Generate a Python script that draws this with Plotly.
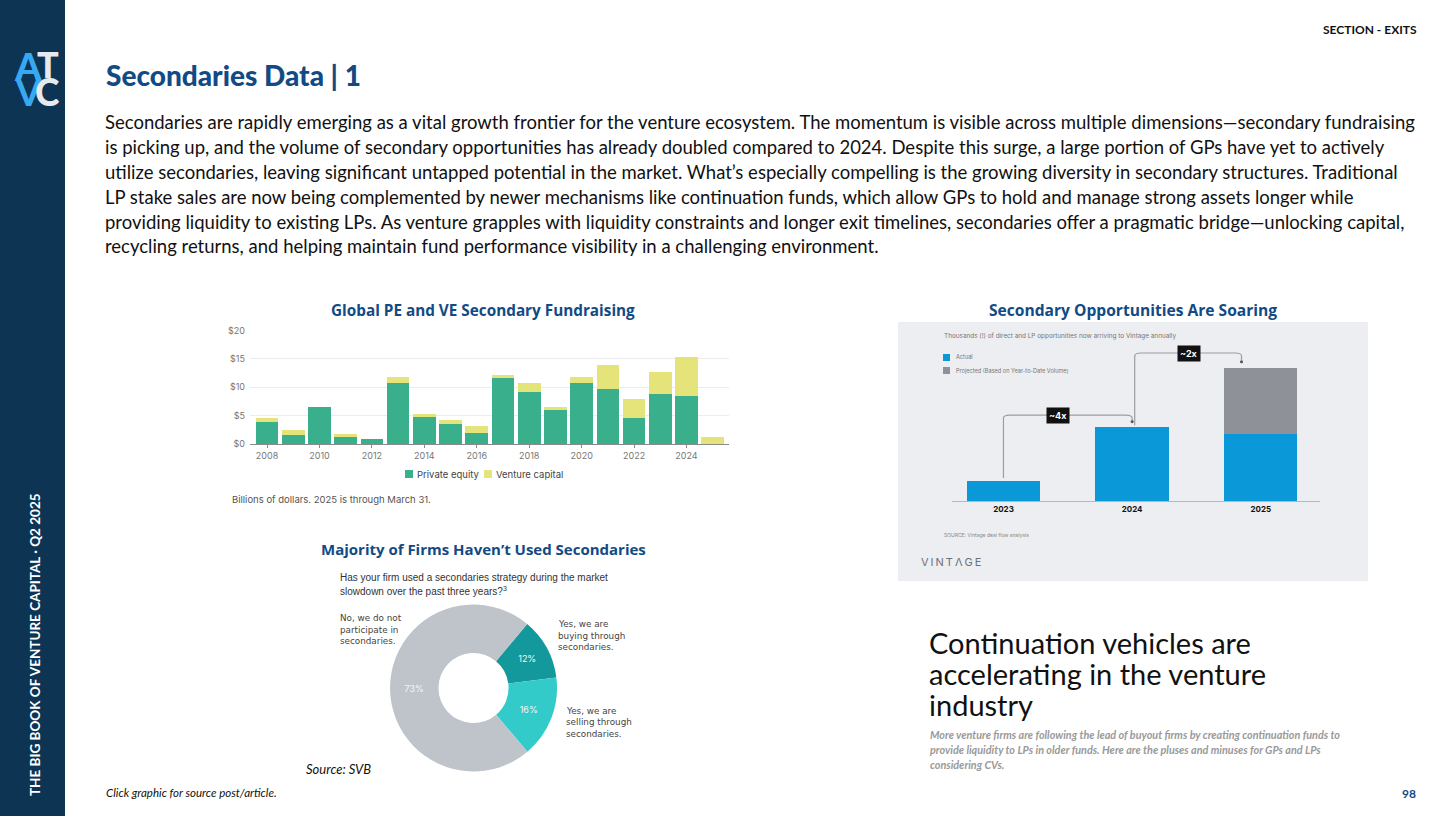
import plotly.graph_objects as go

W, H = 1456, 816

# ---------------- data ----------------
years = list(range(2008, 2026))
pe_values = [3.8, 1.5, 6.5, 1.2, 0.8, 10.7, 5.0, 3.5, 1.9, 11.8, 9.1, 6.0, 10.8, 9.7, 4.5, 8.8, 8.4, 0.0]
vc_values = [0.7, 1.0, 0.0, 0.6, 0.0, 1.1, 0.3, 0.7, 1.2, 0.3, 1.7, 0.6, 1.0, 4.2, 3.4, 3.9, 6.9, 1.3]
bar_ticks = [2008, 2010, 2012, 2014, 2016, 2018, 2020, 2022, 2024]
bar_yticks = [0, 5, 10, 15, 20]
bar_yticktext = ["$0", "$5", "$10", "$15", "$20"]

opp_years = ["2023", "2024", "2025"]
opp_actual = [0.55, 2.0, 1.8]
opp_projected = [0.0, 0.0, 1.8]

donut_labels = ["Yes, we are buying through secondaries.",
                "Yes, we are selling through secondaries.",
                "No, we do not participate in secondaries."]
donut_values = [12, 16, 73]
donut_text = ["12%", "16%", "73%"]

body_lines = [
    "Secondaries are rapidly emerging as a vital growth frontier for the venture ecosystem. The momentum is visible across multiple dimensions\u2014secondary fundraising",
    "is picking up, and the volume of secondary opportunities has already doubled compared to 2024. Despite this surge, a large portion of GPs have yet to actively",
    "utilize secondaries, leaving significant untapped potential in the market. What\u2019s especially compelling is the growing diversity in secondary structures. Traditional",
    "LP stake sales are now being complemented by newer mechanisms like continuation funds, which allow GPs to hold and manage strong assets longer while",
    "providing liquidity to existing LPs. As venture grapples with liquidity constraints and longer exit timelines, secondaries offer a pragmatic bridge\u2014unlocking capital,",
    "recycling returns, and helping maintain fund performance visibility in a challenging environment.",
]

# ---------------- helpers ----------------
def px(x):
    return x / W

def py(y):
    return 1 - y / H

NAVY = "#0d3453"
TITLE_BLUE = "#124a85"
GREEN = "#3aaf8b"
YELLOW = "#e5e47a"
V_BLUE = "#0b98d9"
V_GRAY = "#8e9298"

annotations = []
shapes = []

def ann(x, y, text, size, color="#000000", family="Lato", xanchor="left",
        yanchor="middle", weight=None, style=None, angle=0, **kw):
    font = dict(size=size, color=color, family=family)
    if weight:
        font["weight"] = weight
    if style:
        font["style"] = style
    annotations.append(dict(x=px(x), y=py(y), xref="paper", yref="paper", text=text,
                            showarrow=False, xanchor=xanchor, yanchor=yanchor,
                            font=font, textangle=angle, **kw))

def rect(x0, y0, x1, y1, color, layer="below"):
    shapes.append(dict(type="rect", xref="paper", yref="paper",
                       x0=px(x0), x1=px(x1), y0=py(y1), y1=py(y0),
                       fillcolor=color, line=dict(width=0), layer=layer))

fig = go.Figure()

# ---------------- sidebar ----------------
rect(0, 0, 65, 816, NAVY)
ann(29, 66, "A", 38, "#36a9f2", "Lato", "center", weight=900)
ann(48, 64, "T", 36, "#e6eaee", "Lato", "center", weight=900)
ann(28, 92, "V", 36, "#36a9f2", "Lato", "center", weight=900)
ann(47, 91, "C", 37, "#e6eaee", "Lato", "center", weight=900)
ann(35, 645, "THE BIG BOOK OF VENTURE CAPITAL \u00b7 Q2 2025", 13.5, "#ffffff",
    "Lato", "center", weight="bold", angle=-90)

# ---------------- header ----------------
ann(1419, 30, "SECTION - EXITS", 12, "#111111", "Lato", "right", weight="bold")
ann(104, 75, "Secondaries Data | 1", 28, TITLE_BLUE, "Lato", "left", weight=900)
for i, line in enumerate(body_lines):
    ann(103, 122 + i * 24.9, line, 18.5, "#111111", "Lato", "left")

# ---------------- chart titles ----------------
ann(483, 310, "Global PE and VE Secondary Fundraising", 15.3, TITLE_BLUE, "Open Sans", "center", weight="bold")
ann(1133, 310, "Secondary Opportunities Are Soaring", 15.6, TITLE_BLUE, "Open Sans", "center", weight="bold")
ann(483, 549, "Majority of Firms Haven\u2019t Used Secondaries", 15, TITLE_BLUE, "Open Sans", "center", weight="bold")

# ---------------- bar chart ----------------
fig.add_trace(go.Bar(x=years, y=pe_values, marker=dict(color=GREEN, line=dict(width=0)),
                     name="Private equity", xaxis="x", yaxis="y", showlegend=False))
fig.add_trace(go.Bar(x=years, y=vc_values, marker=dict(color=YELLOW, line=dict(width=0)),
                     name="Venture capital", xaxis="x", yaxis="y", showlegend=False))

# legend (manual)
rect(405, 470, 413, 478, GREEN, layer="above")
ann(415, 474, "Private equity", 9.5, "#444444", "Inter", "left")
rect(484, 470, 492, 478, YELLOW, layer="above")
ann(494, 474, "Venture capital", 9.5, "#444444", "Inter", "left")
ann(230, 499, "Billions of dollars. 2025 is through March 31.", 9.5, "#555555", "Inter", "left")

# ---------------- Vintage chart ----------------
rect(898, 322, 1368, 581, "#eceef1")
fig.add_trace(go.Bar(x=[0, 1, 2], y=opp_actual, marker=dict(color=V_BLUE, line=dict(width=0)),
                     width=0.57, xaxis="x2", yaxis="y2", showlegend=False, name="Actual"))
fig.add_trace(go.Bar(x=[0, 1, 2], y=opp_projected, marker=dict(color=V_GRAY, line=dict(width=0)),
                     width=0.57, xaxis="x2", yaxis="y2", showlegend=False,
                     name="Projected (Based on Year-to-Date Volume)"))

ann(942, 336, "Thousands (!) of direct and LP opportunities now arriving to Vintage annually",
    6.4, "#777777", "Inter", "left")
rect(943, 354, 950, 361, V_BLUE, layer="above")
ann(954, 357, "Actual", 5.6, "#777777", "Inter", "left")
rect(943, 367, 950, 374, V_GRAY, layer="above")
ann(954, 370.5, "Projected (Based on Year-to-Date Volume)", 5.6, "#777777", "Inter", "left")
ann(942, 535, "SOURCE: Vintage deal flow analysis", 5, "#888888", "Inter", "left")
ann(919, 562, "V\u2009I\u2009N\u2009T\u2009\u039b\u2009G\u2009E", 11, "#6d7178", "Inter", "left")

# brackets in data coords of chart 2
b1 = "M 0,0.62 L 0,2.24 Q 0,2.32 0.05,2.32 L 0.95,2.32 Q 1.0,2.32 1.0,2.24 L 1.0,2.14"
b2 = "M 1.02,2.05 L 1.02,3.92 Q 1.02,4.0 1.07,4.0 L 1.80,4.0 Q 1.85,4.0 1.85,3.92 L 1.85,3.76"
for p in (b1, b2):
    shapes.append(dict(type="path", xref="x2", yref="y2", path=p,
                       line=dict(color="#9a9da2", width=1.2), layer="above"))
for (xx, yy) in ((1.0, 2.14), (1.85, 3.76)):
    shapes.append(dict(type="circle", xref="x2", yref="y2",
                       x0=xx - 0.012, x1=xx + 0.012, y0=yy - 0.04, y1=yy + 0.04,
                       fillcolor="#555555", line=dict(width=0), layer="above"))
annotations.append(dict(x=0.42, y=2.32, xref="x2", yref="y2", text="<b>~4x</b>", showarrow=False,
                        font=dict(size=9, color="#ffffff", family="Inter"), bgcolor="#111111",
                        borderpad=2, xanchor="center", yanchor="middle"))
annotations.append(dict(x=1.44, y=4.0, xref="x2", yref="y2", text="<b>~2x</b>", showarrow=False,
                        font=dict(size=9, color="#ffffff", family="Inter"), bgcolor="#111111",
                        borderpad=2, xanchor="center", yanchor="middle"))

# ---------------- donut ----------------
fig.add_trace(go.Pie(labels=donut_labels, values=donut_values, text=donut_text,
                     textinfo="text", hole=0.42, sort=False, direction="clockwise",
                     rotation=40, marker=dict(colors=["#13999b", "#33cbc9", "#bfc3ca"],
                                              line=dict(width=0)),
                     textfont=dict(size=9, color="#f4f6f8", family="Inter"),
                     insidetextorientation="horizontal", textposition="inside",
                     domain=dict(x=[px(390), px(557)], y=[py(772), py(604)]),
                     showlegend=False, hoverinfo="skip"))

ann(338, 577, "Has your firm used a secondaries strategy during the market", 10, "#333333", "Liberation Sans", "left")
ann(338, 591, "slowdown over the past three years?<sup>3</sup>", 10, "#333333", "Liberation Sans", "left")
for i, t in enumerate(["No, we do not", "participate in", "secondaries."]):
    ann(338, 618 + i * 11.5, t, 8.8, "#444444", "DejaVu Sans", "left")
for i, t in enumerate(["Yes, we are", "buying through", "secondaries."]):
    ann(556, 624 + i * 11.7, t, 8.8, "#444444", "DejaVu Sans", "left")
for i, t in enumerate(["Yes, we are", "selling through", "secondaries."]):
    ann(564, 711 + i * 11.3, t, 8.8, "#444444", "DejaVu Sans", "left")
ann(304, 769, "Source: SVB", 13, "#111111", "Lato", "left", style="italic")

# ---------------- bottom right text ----------------
for i, t in enumerate(["Continuation vehicles are", "accelerating in the venture", "industry"]):
    ann(927, 642 + i * 31, t, 29, "#111111", "Lato", "left")
for i, t in enumerate(["More venture firms are following the lead of buyout firms by creating continuation funds to",
                       "provide liquidity to LPs in older funds. Here are the pluses and minuses for GPs and LPs",
                       "considering CVs."]):
    ann(928, 734 + i * 15, t, 10.8, "#999999", "Lato", "left", weight="bold", style="italic")

# ---------------- footer ----------------
ann(104, 792, "Click graphic for source post/article.", 11.5, "#111111", "Lato", "left", style="italic")
ann(1418, 793, "98", 12, TITLE_BLUE, "Lato", "right", weight="bold")

# ---------------- layout ----------------
fig.update_layout(
    autosize=True,
    margin=dict(l=0, r=0, t=0, b=0, autoexpand=False),
    paper_bgcolor="#ffffff", plot_bgcolor="rgba(0,0,0,0)",
    barmode="stack", bargap=0.135,
    annotations=annotations, shapes=shapes,
    xaxis=dict(domain=[px(250), px(729)], range=[2007.35, 2025.62], tickvals=bar_ticks,
               showgrid=False, showline=True, linecolor="#8a8a8a", linewidth=1,
               ticks="outside", ticklen=3, tickcolor="#8a8a8a", automargin=False,
               tickfont=dict(size=9, color="#777777", family="Inter"), zeroline=False,
               fixedrange=True),
    yaxis=dict(domain=[py(444), py(330.5)], range=[0, 20], tickvals=bar_yticks,
               ticktext=bar_yticktext, showgrid=True, gridcolor="#ececec", gridwidth=1,
               zeroline=False, showline=False, ticks="", ticklabelstandoff=4, automargin=False,
               tickfont=dict(size=9, color="#777777", family="Inter"), fixedrange=True),
    xaxis2=dict(domain=[px(952), px(1320)], range=[-0.40, 2.46], tickvals=[0, 1, 2],
                ticktext=opp_years, showgrid=False, showline=True, linecolor="#b5b8bd",
                linewidth=1, ticks="", zeroline=False, automargin=False,
                tickfont=dict(size=8, color="#111111", family="Inter", weight="bold"),
                anchor="y2", fixedrange=True),
    yaxis2=dict(domain=[py(501), py(501 - 4.3 * 37)], range=[0, 4.3], visible=False,
                anchor="x2", fixedrange=True),
)

fig.write_html("out.html", default_width="100vw", default_height="100vh",
               config={"displayModeBar": False, "responsive": True},
               post_script="document.body.style.margin='0';document.body.style.overflow='hidden';"
                           "Plotly.Plots.resize(document.getElementById('{plot_id}'));")
